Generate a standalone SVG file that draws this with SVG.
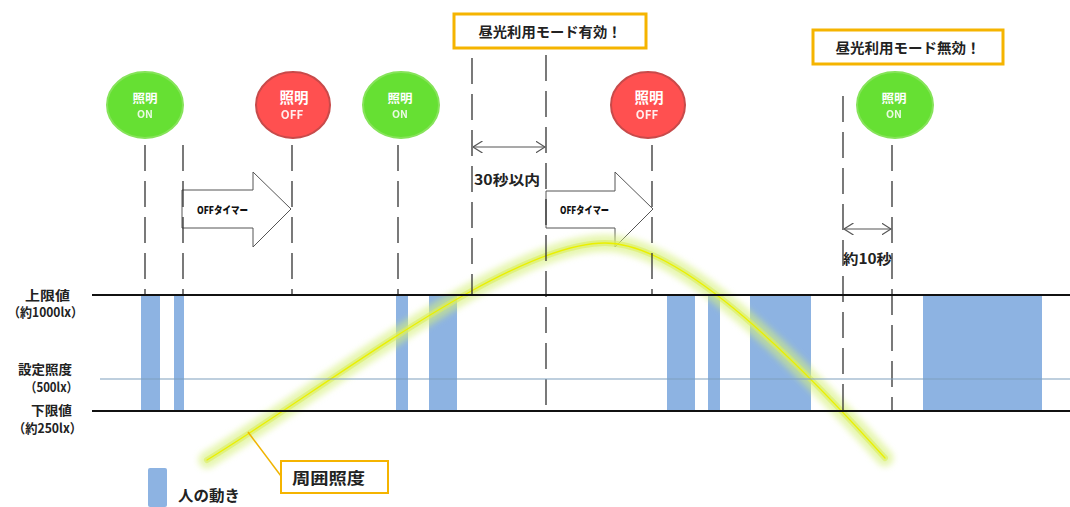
<svg xmlns="http://www.w3.org/2000/svg" width="1070" height="507" viewBox="0 0 1070 507">
<defs>
<style>
.t{font-family:"Noto Sans CJK JP","Noto Sans",sans-serif;font-weight:bold;fill:#222}
.ct{font-family:"Noto Sans CJK JP","Noto Sans",sans-serif;font-weight:bold;fill:#ffffff;text-anchor:middle}
.dash{stroke:#333;stroke-width:1.3;stroke-dasharray:26 10;fill:none}
.bar{fill:#8db3e2}
.on{fill:#66e033;stroke:#86e35a;stroke-width:2}
.off{fill:#ff5050;stroke:#c84a4a;stroke-width:2}
.box{fill:#fff;stroke:#f5b400;stroke-width:3}
.barrow{fill:#fff;stroke:#555;stroke-width:1}
.dim{stroke:#555;stroke-width:1.2;fill:none}
.hl{stroke:#111;stroke-width:2}
.tm{font-family:"Noto Sans CJK JP","Noto Sans",sans-serif;font-weight:900;fill:#111}
</style>
<marker id="ah" viewBox="0 0 10 12" refX="9.5" refY="6" markerWidth="10" markerHeight="12" markerUnits="userSpaceOnUse" orient="auto-start-reverse">
<path d="M0,0 L9.5,6 L0,12" fill="none" stroke="#555" stroke-width="1.2"/>
</marker>
<filter id="glow" x="-10%" y="-10%" width="120%" height="120%"><feGaussianBlur stdDeviation="3"/></filter>
</defs>

<g id="legend-labels">
<text class="t" x="25" y="300" font-size="13" textLength="45" lengthAdjust="spacingAndGlyphs">上限値</text>
<text class="t" x="8" y="317" font-size="13" textLength="75" lengthAdjust="spacingAndGlyphs">（約1000lx）</text>
<text class="t" x="18" y="374" font-size="13" textLength="54" lengthAdjust="spacingAndGlyphs">設定照度</text>
<text class="t" x="25" y="392" font-size="13" textLength="53" lengthAdjust="spacingAndGlyphs">（500lx）</text>
<text class="t" x="31" y="415" font-size="13" textLength="41" lengthAdjust="spacingAndGlyphs">下限値</text>
<text class="t" x="13" y="433" font-size="13" textLength="69" lengthAdjust="spacingAndGlyphs">（約250lx）</text>
</g>

<g id="motion-bars">
<rect class="bar" x="141" y="295" width="19" height="116"/>
<rect class="bar" x="174" y="295" width="10" height="116"/>
<rect class="bar" x="396" y="295" width="12" height="116"/>
<rect class="bar" x="429" y="295" width="28" height="116"/>
<rect class="bar" x="667" y="295" width="28" height="116"/>
<rect class="bar" x="708" y="295" width="12" height="116"/>
<rect class="bar" x="750" y="295" width="61" height="116"/>
<rect class="bar" x="923" y="295" width="119" height="116"/>
</g>

<g id="timer1">
<path class="barrow" d="M182,190 H253 V172 L291,209 L253,247 V228 H182 Z"/>
<text class="tm" x="197" y="214" font-size="10.5" textLength="51" lengthAdjust="spacingAndGlyphs">OFFタイマー</text>
</g>
<g id="timer2">
<path class="barrow" d="M546,191 H615 V172 L653,209 L615,247 V228 H546 Z"/>
<text class="tm" x="560" y="214" font-size="10.5" textLength="49" lengthAdjust="spacingAndGlyphs">OFFタイマー</text>
</g>

<g id="ambient-curve">
<path d="M207,460 C330,385 510,243 605,243 C670,243 768,328 885,458" fill="none" stroke="#d6f07a" stroke-width="17" stroke-linecap="round" opacity="0.6" filter="url(#glow)"/>
<path d="M207,460 C330,385 510,243 605,243 C670,243 768,328 885,458" fill="none" stroke="#dcef5e" stroke-width="6" stroke-linecap="round" opacity="0.6"/>
<path d="M207,460 C330,385 510,243 605,243 C670,243 768,328 885,458" fill="none" stroke="#eaf000" stroke-width="1.3" stroke-linecap="round"/>
</g>

<g id="connectors">
<line class="dash" x1="145" y1="145" x2="145" y2="295"/>
<line class="dash" x1="183" y1="145" x2="183" y2="295"/>
<line class="dash" x1="292" y1="145" x2="292" y2="295"/>
<line class="dash" x1="398" y1="145" x2="398" y2="295"/>
<line class="dash" x1="472" y1="58" x2="472" y2="295"/>
<line class="dash" x1="546" y1="55" x2="546" y2="411"/>
<line class="dash" x1="652" y1="145" x2="652" y2="295"/>
<line class="dash" x1="843" y1="96" x2="843" y2="411"/>
<line class="dash" x1="892" y1="145" x2="892" y2="411"/>
<line x1="92" y1="295" x2="1070" y2="295" class="hl"/>
<line x1="92" y1="411" x2="1070" y2="411" class="hl"/>
<line x1="100" y1="379" x2="1070" y2="379" stroke="#7f9fbd" stroke-width="1.2"/>
<line class="dim" x1="473" y1="147" x2="545" y2="147" marker-start="url(#ah)" marker-end="url(#ah)"/>
<line class="dim" x1="844" y1="229" x2="891" y2="229" marker-start="url(#ah)" marker-end="url(#ah)"/>
<line x1="248" y1="432" x2="281" y2="476" stroke="#f0b400" stroke-width="1.5"/>
</g>

<g id="dim-labels">
<text class="t" x="474" y="185" font-size="14" textLength="66" lengthAdjust="spacingAndGlyphs">30秒以内</text>
<text class="t" x="843" y="264" font-size="14" textLength="49" lengthAdjust="spacingAndGlyphs">約10秒</text>
</g>

<g id="mode-on">
<rect class="box" x="454" y="14" width="192" height="34"/>
<text class="t" x="550" y="37" font-size="14" text-anchor="middle" textLength="143" lengthAdjust="spacingAndGlyphs">昼光利用モード有効！</text>
</g>
<g id="mode-off">
<rect class="box" x="813" y="30" width="190" height="34"/>
<text class="t" x="908" y="53" font-size="14" text-anchor="middle" textLength="145" lengthAdjust="spacingAndGlyphs">昼光利用モード無効！</text>
</g>

<g id="light1">
<ellipse class="on" cx="145" cy="105" rx="38" ry="33"/>
<text class="ct" x="145" y="103" font-size="12.5">照明</text>
<text class="ct" x="145" y="118" font-size="10.5" opacity="0.85">ON</text>
</g>
<g id="light2">
<ellipse class="off" cx="293" cy="105" rx="37" ry="33"/>
<text class="ct" x="294" y="103" font-size="14.5">照明</text>
<text class="ct" x="292" y="119" font-size="11.5" opacity="0.9">OFF</text>
</g>
<g id="light3">
<ellipse class="on" cx="401" cy="105" rx="38" ry="33"/>
<text class="ct" x="400" y="103" font-size="12.5">照明</text>
<text class="ct" x="400" y="118" font-size="10.5" opacity="0.85">ON</text>
</g>
<g id="light4">
<ellipse class="off" cx="648" cy="105" rx="37" ry="33"/>
<text class="ct" x="649" y="103" font-size="14.5">照明</text>
<text class="ct" x="647" y="119" font-size="11.5" opacity="0.9">OFF</text>
</g>
<g id="light5">
<ellipse class="on" cx="895" cy="105" rx="38" ry="33"/>
<text class="ct" x="894" y="103" font-size="12.5">照明</text>
<text class="ct" x="894" y="118" font-size="10.5" opacity="0.85">ON</text>
</g>

<g id="callout">
<rect x="281" y="461" width="107" height="32" fill="#fff" stroke="#f5b400" stroke-width="2"/>
<text class="t" x="292" y="484" font-size="16" textLength="73" lengthAdjust="spacingAndGlyphs">周囲照度</text>
</g>

<g id="legend">
<rect class="bar" x="148" y="468" width="19" height="39" rx="2"/>
<text class="t" x="178" y="501" font-size="15" textLength="62" lengthAdjust="spacingAndGlyphs">人の動き</text>
</g>
</svg>
